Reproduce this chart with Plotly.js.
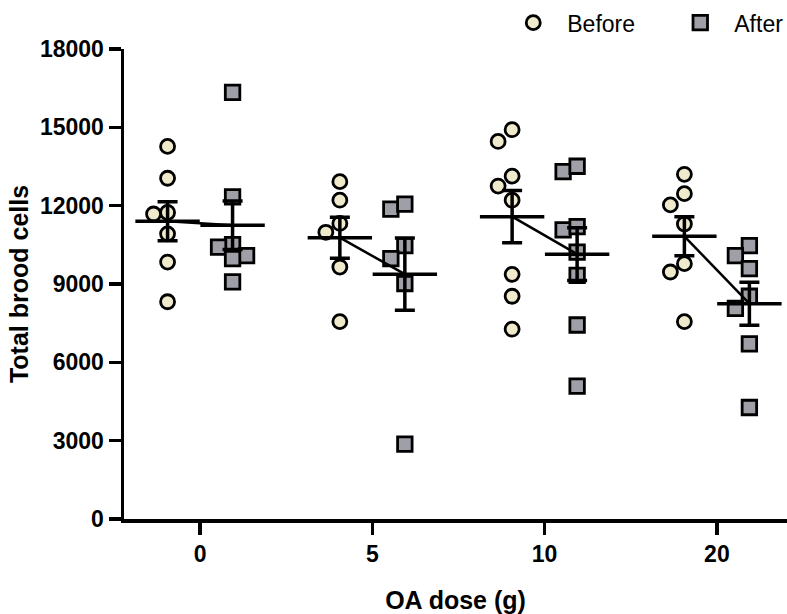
<!DOCTYPE html>
<html>
<head>
<meta charset="utf-8">
<script src="https://cdn.plot.ly/plotly-3.0.1.min.js"></script>
<style>
html,body{margin:0;padding:0;background:#fff;}
#chart{width:787px;height:614px;}
</style>
</head>
<body>
<div id="chart"></div>
<script>
// ---- Data ----
const doseLabels = ['0', '5', '10', '20'];
const before0  = [14270, 13050, 11740, 11680, 10920, 9840, 8320];
const after0   = [16340, 12340, 10510, 10410, 10090, 9970, 9080];
const before5  = [12920, 12210, 11320, 10980, 9650, 7560];
const after5   = [11870, 12060, 10470, 9970, 9020, 2870];
const before10 = [14910, 14460, 13130, 12750, 12210, 9370, 8530, 7270];
const after10  = [13300, 13510, 11070, 11200, 10220, 9330, 7430, 5090];
const before20 = [13200, 12460, 12030, 11300, 9780, 9460, 7560];
const after20  = [10470, 10090, 9590, 8530, 8070, 6710, 4270];
const yTicks = [0, 3000, 6000, 9000, 12000, 15000, 18000];

const beforeGroups = [before0, before5, before10, before20];
const afterGroups  = [after0, after5, after10, after20];

// ---- Layout constants ----
const W = 787, H = 614;
const M = {l: 124, r: 0, t: 48.5, b: 95.25, autoexpand: false};
const plotW = W - M.l - M.r, plotH = H - M.t - M.b;
const xRange = [-0.4416, 3.407];
const yRange = [0, 18000];
const pxPerX = plotW / (xRange[1] - xRange[0]);
const pxPerY = plotH / (yRange[1] - yRange[0]);
const pairOffset = 32.5 / pxPerX;   // before/after offset from the category centre
const STEP = 14, D = 14;            // swarm step and min distance (px)

function swarm(vals) {
  const order = vals.map((v, i) => i).sort((a, b) => vals[b] - vals[a]);
  const placed = [], off = new Array(vals.length);
  for (const i of order) {
    const y = vals[i] * pxPerY;
    let best = null;
    for (let k = 0; k < 30 && best === null; k++) {
      const cands = k === 0 ? [0] : [-k * STEP, k * STEP];
      for (const c of cands) {
        if (placed.every(p => Math.hypot(p.x - c, p.y - y) >= D)) { best = c; break; }
      }
    }
    off[i] = best; placed.push({x: best, y});
  }
  return off.map(o => o / pxPerX);
}
const mean = a => a.reduce((s, v) => s + v, 0) / a.length;
const sem = a => {
  const m = mean(a);
  const sd = Math.sqrt(a.reduce((s, v) => s + (v - m) * (v - m), 0) / (a.length - 1));
  return sd / Math.sqrt(a.length);
};

function pointsTrace(groups, side, name, symbol, fill, size) {
  const x = [], y = [];
  groups.forEach((g, gi) => {
    const offs = swarm(g);
    g.forEach((v, i) => { x.push(gi + side * pairOffset + offs[i]); y.push(v); });
  });
  return {
    type: 'scatter', mode: 'markers', name, x, y, showlegend: true,
    marker: {symbol, size, color: fill, line: {color: '#000', width: 2.8}},
    hoverinfo: 'y', cliponaxis: false
  };
}

const bx = doseLabels.map((d, i) => i - pairOffset);
const ax = doseLabels.map((d, i) => i + pairOffset);
const bMean = beforeGroups.map(mean), aMean = afterGroups.map(mean);
const bSem = beforeGroups.map(sem), aSem = afterGroups.map(sem);

const connX = [], connY = [];
doseLabels.forEach((d, i) => { connX.push(bx[i], ax[i], null); connY.push(bMean[i], aMean[i], null); });

function meanTrace(x, y, err) {
  return {
    type: 'scatter', mode: 'markers', x, y, showlegend: false, hoverinfo: 'y',
    marker: {symbol: 'line-ew', size: 46, color: '#000', line: {color: '#000', width: 3.5}},
    error_y: {type: 'data', array: err, visible: true, color: '#000', thickness: 3.5, width: 10},
    cliponaxis: false
  };
}

const traces = [
  pointsTrace(beforeGroups, -1, 'Before', 'circle', '#eeeacb', 14),
  pointsTrace(afterGroups, 1, 'After', 'square', '#9f9fa7', 14.5),
  {type: 'scatter', mode: 'lines', x: connX, y: connY, showlegend: false, hoverinfo: 'skip',
   line: {color: '#000', width: 2.5}, cliponaxis: false},
  meanTrace(bx, bMean, bSem),
  meanTrace(ax, aMean, aSem)
];

const FONT = 'Arial, "Liberation Sans", Helvetica, sans-serif';
const axisCommon = {
  showline: true, linecolor: '#000', linewidth: 3.5,
  ticks: 'outside', ticklen: 12, tickwidth: 3.5, tickcolor: '#000',
  showgrid: false, zeroline: false, fixedrange: true,
  tickfont: {family: FONT, size: 23, color: '#000', weight: 'bold'}
};

const layout = {
  width: W, height: H, margin: M,
  paper_bgcolor: '#fff', plot_bgcolor: '#fff',
  font: {family: FONT, color: '#000'},
  showlegend: true,
  legend: {
    orientation: 'h', x: 0.566, xanchor: 'left', y: 1.056, yanchor: 'middle',
    font: {family: FONT, size: 23, color: '#000'},
    itemwidth: 58, entrywidth: 94, bgcolor: 'rgba(0,0,0,0)', traceorder: 'normal'
  },
  xaxis: Object.assign({}, axisCommon, {
    range: xRange, tickmode: 'array', tickvals: doseLabels.map((d, i) => i), ticktext: doseLabels,
    title: {text: 'OA dose (g)', font: {family: FONT, size: 25, color: '#000', weight: 'bold'}, standoff: 27}
  }),
  yaxis: Object.assign({}, axisCommon, {
    range: yRange, tickmode: 'array', tickvals: yTicks, ticktext: yTicks.map(String),
    title: {text: 'Total brood cells', font: {family: FONT, size: 25, color: '#000', weight: 'bold'}, standoff: 5}
  })
};

Plotly.newPlot('chart', traces, layout, {displayModeBar: false, staticPlot: true});
</script>
</body>
</html>
